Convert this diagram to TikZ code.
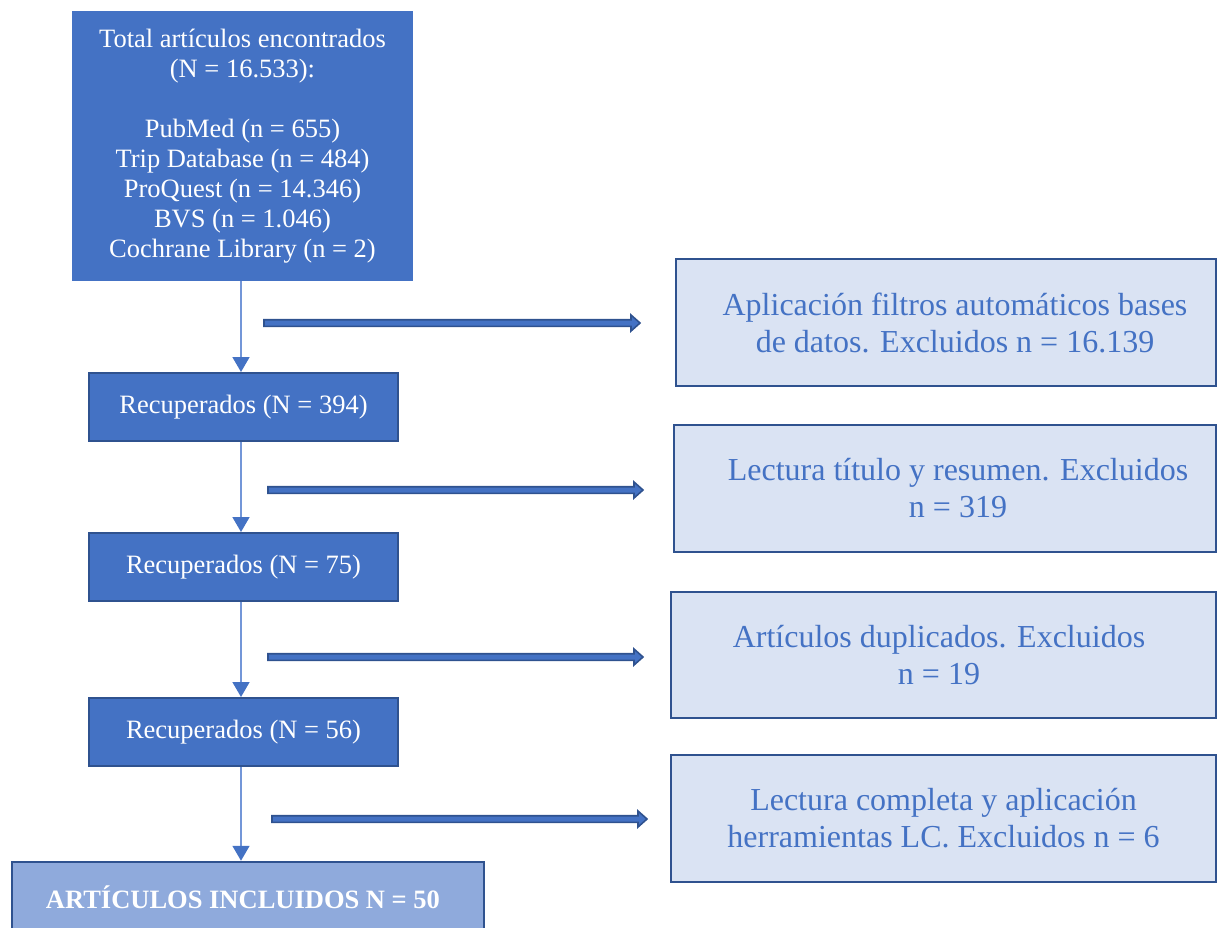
\documentclass[tikz,border=0pt]{standalone}
\usepackage{fontspec}
\setmainfont{Liberation Serif}
\usetikzlibrary{arrows.meta,calc}
\definecolor{cMain}{HTML}{4472C4}
\definecolor{cDark}{HTML}{2F528F}
\definecolor{cLight}{HTML}{DAE3F3}
\definecolor{cMid}{HTML}{8FAADC}
\definecolor{cLine}{HTML}{7396D8}
\newcommand\myblockarrow[2]{%
  \filldraw[fill=cMain, draw=cDark, line width=1.6pt, line join=miter]
    ($(#1)+(0,-3.3)$) -- ($(#2)+(-9,-3.3)$) -- ($(#2)+(-9,-8)$) -- (#2) --
    ($(#2)+(-9,8)$) -- ($(#2)+(-9,3.3)$) -- ($(#1)+(0,3.3)$) -- cycle;}
\begin{document}
\begin{tikzpicture}[x=1pt,y=-1pt,
  mainbox/.style={fill=cMain, text=white, inner sep=0pt, align=center,
    font=\fontsize{26.5}{30}\selectfont},
  recbox/.style={mainbox, draw=cDark, line width=2pt, minimum width=309pt, minimum height=68pt},
  exclbox/.style={fill=cLight, draw=cDark, line width=2.5pt, text=cMain, inner sep=0pt,
    align=center, font=\fontsize{32}{37}\selectfont},
  finalbox/.style={fill=cMid, draw=cDark, line width=2.5pt, text=white, inner sep=0pt,
    align=center, font=\fontsize{26.5}{30}\selectfont\bfseries},
  flow/.style={draw=cLine, line width=1.6pt,
    -{Triangle[length=15pt,width=17pt,fill=cMain,color=cMain]}},
]
\useasboundingbox (0,0) rectangle (1217,927);
\begin{scope}
\clip (0,0) rectangle (1217,927);
\node[mainbox, minimum width=341pt, minimum height=270pt] (total) at (242.5,146)
  {Total artículos encontrados\\(N = 16.533):\\[30pt]PubMed (n = 655)\\Trip Database (n = 484)\\ProQuest (n = 14.346)\\BVS (n = 1.046)\\Cochrane Library (n = 2)};
\node[recbox] (rec1) at (243.5,407) {Recuperados (N = 394)};
\node[recbox] (rec2) at (243.5,567) {Recuperados (N = 75)};
\node[recbox] (rec3) at (243.5,732) {Recuperados (N = 56)};
\node[finalbox, minimum width=472pt, minimum height=70pt] (final) at (248,897)
  {\hspace*{-10pt}ARTÍCULOS INCLUIDOS N = 50};

\node[exclbox, minimum width=540pt, minimum height=127pt] (ex1) at (946,322.5)
  {\hspace*{18pt}Aplicación filtros automáticos bases\\\hspace*{18pt}de datos. Excluidos n = 16.139};
\node[exclbox, minimum width=542pt, minimum height=127pt] (ex2) at (945,488.5)
  {\hspace*{26pt}Lectura título y resumen. Excluidos\\\hspace*{26pt}n = 319};
\node[exclbox, minimum width=545pt, minimum height=126pt] (ex3) at (943.5,655)
  {\hspace*{-9pt}Artículos duplicados. Excluidos\\\hspace*{-9pt}n = 19};
\node[exclbox, minimum width=545pt, minimum height=127pt] (ex4) at (943.5,818.5)
  {Lectura completa y aplicación\\herramientas LC. Excluidos n = 6};

\coordinate (vx) at (241,0);
\draw[flow] (total.south -| vx) -- (rec1.north -| vx);
\draw[flow] (rec1.south -| vx) -- (rec2.north -| vx);
\draw[flow] (rec2.south -| vx) -- (rec3.north -| vx);
\draw[flow] (rec3.south -| vx) -- (final.north -| vx);

\coordinate (a1s) at (264,323); \coordinate (a1e) at (640,323);
\coordinate (a2s) at (268,490); \coordinate (a2e) at (643,490);
\coordinate (a3s) at (268,657); \coordinate (a3e) at (643,657);
\coordinate (a4s) at (272,819); \coordinate (a4e) at (647,819);
\myblockarrow{a1s}{a1e}
\myblockarrow{a2s}{a2e}
\myblockarrow{a3s}{a3e}
\myblockarrow{a4s}{a4e}
\end{scope}
\end{tikzpicture}
\end{document}
